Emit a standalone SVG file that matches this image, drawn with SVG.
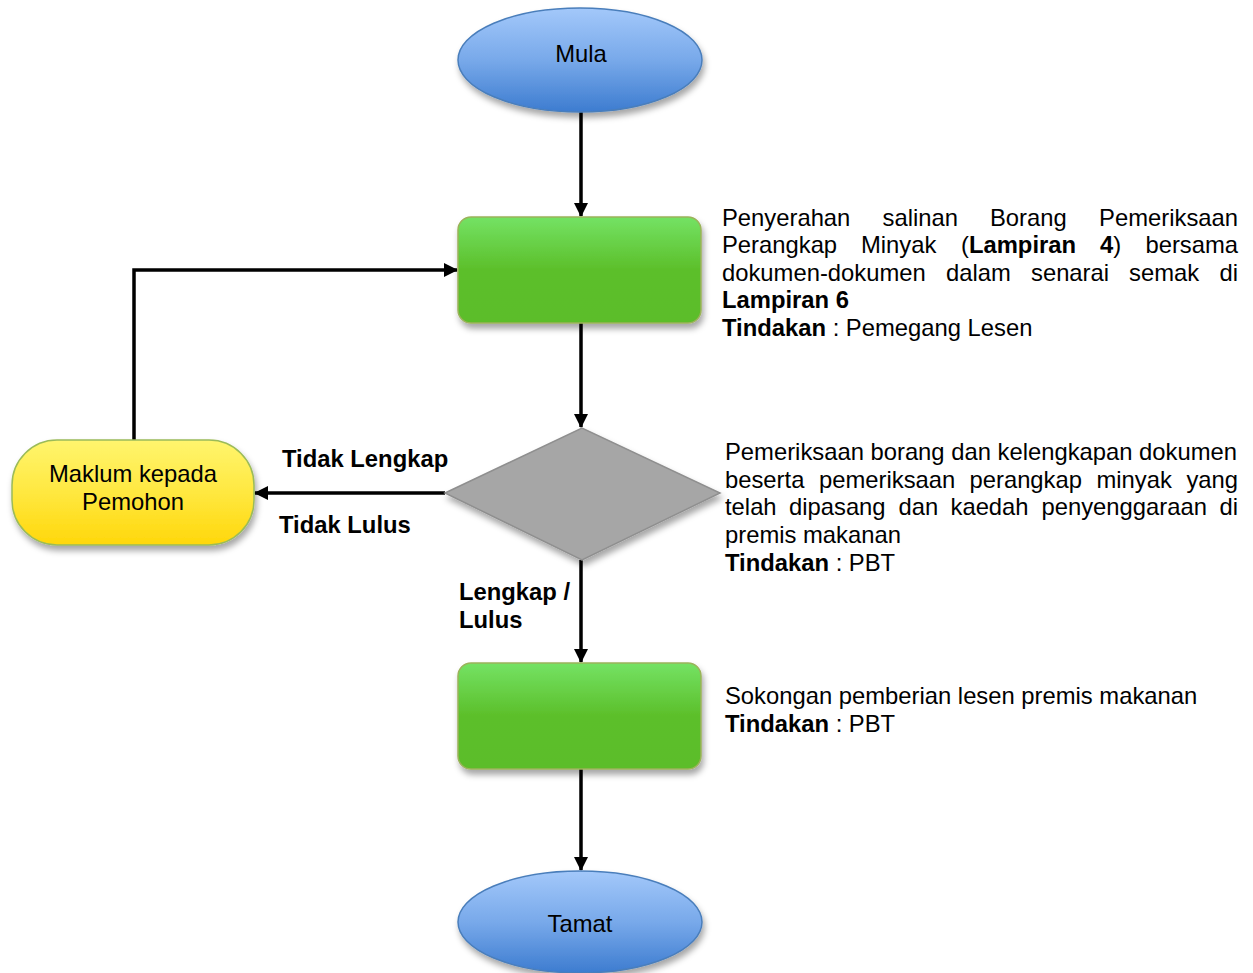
<svg xmlns="http://www.w3.org/2000/svg" width="1253" height="973" viewBox="0 0 1253 973">
<defs>
<linearGradient id="gBlue" x1="0" y1="0" x2="0" y2="1">
<stop offset="0" stop-color="#a3c8fa"/><stop offset="0.5" stop-color="#78a9ea"/><stop offset="1" stop-color="#3d7cd0"/>
</linearGradient>
<linearGradient id="gGreen" x1="0" y1="0" x2="0" y2="1">
<stop offset="0" stop-color="#74e264"/><stop offset="0.5" stop-color="#5cbf2a"/><stop offset="1" stop-color="#5cbd2a"/>
</linearGradient>
<linearGradient id="gYellow" x1="0" y1="0" x2="0" y2="1">
<stop offset="0" stop-color="#fff56e"/><stop offset="0.5" stop-color="#ffe840"/><stop offset="1" stop-color="#ffd70a"/>
</linearGradient>
<filter id="sh" x="-20%" y="-20%" width="140%" height="150%">
<feDropShadow dx="2" dy="5" stdDeviation="3" flood-color="#000" flood-opacity="0.35"/>
</filter>
<marker id="ah" markerWidth="14" markerHeight="14" refX="13" refY="7" orient="auto" markerUnits="userSpaceOnUse">
<path d="M0,0 L14,7 L0,14 Z" fill="#000"/>
</marker>
<style>
.t{font-family:"Liberation Sans",Arial,sans-serif;font-size:23.8px;fill:#000}
.b{font-weight:bold}
.c{text-anchor:middle}
.e{text-anchor:end}
.ell{fill:url(#gBlue);stroke:#4a7ebb;stroke-width:1.5;filter:url(#sh)}
.grn{fill:url(#gGreen);stroke:#9bb35a;stroke-width:1.5;filter:url(#sh)}
.conn{fill:none;stroke:#000;stroke-width:3.5}
</style>
</defs>

<g id="connectors">
<line class="conn" x1="581" y1="112" x2="581" y2="216" marker-end="url(#ah)"/>
<line class="conn" x1="581" y1="323" x2="581" y2="427" marker-end="url(#ah)"/>
<line class="conn" x1="445" y1="493" x2="255" y2="493" marker-end="url(#ah)"/>
<polyline class="conn" points="134,440 134,270 457,270" marker-end="url(#ah)"/>
<line class="conn" x1="581" y1="560" x2="581" y2="662" marker-end="url(#ah)"/>
<line class="conn" x1="581" y1="769" x2="581" y2="870" marker-end="url(#ah)"/>
</g>

<g id="mula">
<ellipse class="ell" cx="580" cy="60" rx="122" ry="52"/>
<text class="t c" x="581" y="62">Mula</text>
</g>

<g id="step1">
<rect class="grn" x="458" y="217" width="243" height="106" rx="13"/>
</g>

<g id="decision">
<polygon points="445,493 582,428 720,493 582,560" fill="#a6a6a6" stroke="#8f8f8f" stroke-width="1.5" filter="url(#sh)"/>
</g>

<g id="maklum">
<rect x="12" y="440" width="242" height="105" rx="45" fill="url(#gYellow)" stroke="#9bbb59" stroke-width="1.5" filter="url(#sh)"/>
<text class="t c" x="133" y="482">Maklum kepada</text>
<text class="t c" x="133" y="510">Pemohon</text>
</g>

<g id="step2">
<rect class="grn" x="458" y="663" width="243" height="106" rx="13"/>
</g>

<g id="tamat">
<ellipse class="ell" cx="580" cy="922" rx="122" ry="51"/>
<text class="t c" x="580" y="932">Tamat</text>
</g>

<g id="labels">
<text class="t b" x="282" y="467">Tidak Lengkap</text>
<text class="t b" x="279" y="533">Tidak Lulus</text>
<text class="t b" x="459" y="600">Lengkap /</text>
<text class="t b" x="459" y="628">Lulus</text>
</g>

<g id="desc1">
<text class="t" x="722" y="226">Penyerahan</text>
<text class="t" x="882.5" y="226">salinan</text>
<text class="t" x="990" y="226">Borang</text>
<text class="t e" x="1238" y="226">Pemeriksaan</text>
<text class="t" x="722" y="253">Perangkap</text>
<text class="t" x="861" y="253">Minyak</text>
<text class="t" x="961" y="253">(<tspan class="b">Lampiran</tspan></text>
<text class="t" x="1100" y="253"><tspan class="b">4</tspan>)</text>
<text class="t e" x="1238" y="253">bersama</text>
<text class="t" x="722" y="281">dokumen-dokumen</text>
<text class="t" x="946" y="281">dalam</text>
<text class="t" x="1031" y="281">senarai</text>
<text class="t" x="1129" y="281">semak</text>
<text class="t e" x="1238" y="281">di</text>
<text class="t b" x="722" y="308">Lampiran 6</text>
<text class="t" x="722" y="336"><tspan class="b">Tindakan</tspan> : Pemegang Lesen</text>
</g>

<g id="desc2">
<text class="t" x="725" y="460">Pemeriksaan borang dan kelengkapan dokumen</text>
<text class="t" x="725" y="488">beserta</text>
<text class="t" x="819" y="488">pemeriksaan</text>
<text class="t" x="969.5" y="488">perangkap</text>
<text class="t" x="1096.5" y="488">minyak</text>
<text class="t e" x="1238" y="488">yang</text>
<text class="t" x="725" y="515">telah</text>
<text class="t" x="789" y="515">dipasang</text>
<text class="t" x="898.5" y="515">dan</text>
<text class="t" x="950.5" y="515">kaedah</text>
<text class="t" x="1041.5" y="515">penyenggaraan</text>
<text class="t e" x="1238" y="515">di</text>
<text class="t" x="725" y="543">premis makanan</text>
<text class="t" x="725" y="571"><tspan class="b">Tindakan</tspan> : PBT</text>
</g>

<g id="desc3">
<text class="t" x="725" y="704">Sokongan pemberian lesen premis makanan</text>
<text class="t" x="725" y="732"><tspan class="b">Tindakan</tspan> : PBT</text>
</g>
</svg>
